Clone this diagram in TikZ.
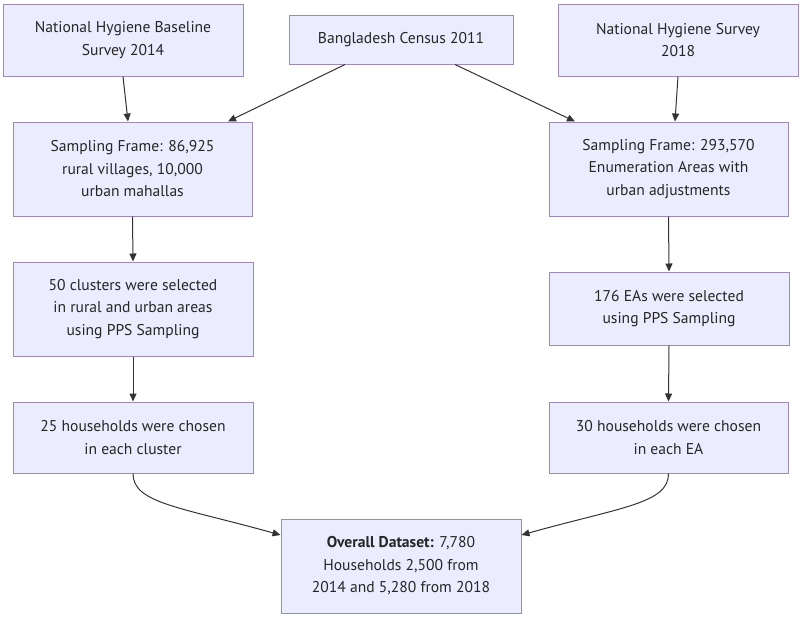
\documentclass[tikz,border=0pt]{standalone}
\usepackage{fontspec}
\setmainfont{PT Sans}
\usetikzlibrary{arrows.meta}
\definecolor{boxfill}{HTML}{ECECFF}
\definecolor{boxline}{HTML}{9C8BB8}
\definecolor{arr}{HTML}{333333}
\tikzset{
  box/.style={draw=boxline, fill=boxfill, line width=1pt, align=center, inner sep=0pt,
    font=\fontsize{15.6}{22.5}\selectfont, text=black!85},
  conn/.style={draw=arr, line width=1pt, -{Triangle[length=8pt,width=7pt]}}
}
\begin{document}
\begin{tikzpicture}[x=1pt,y=-1pt]
\useasboundingbox (0,0) rectangle (800,616);
\node[box, minimum width=240pt, minimum height=72pt] (A) at (123,40) {National Hygiene Baseline\\Survey 2014};
\node[box, minimum width=224pt, minimum height=49pt] (B) at (401,39.5) {Bangladesh Census 2011};
\node[box, minimum width=240pt, minimum height=72pt] (C) at (678,40) {National Hygiene Survey\\2018};
\node[box, minimum width=239pt, minimum height=94pt] (D) at (132.5,169) {Sampling Frame: 86,925\\rural villages, 10,000\\urban mahallas};
\node[box, minimum width=239pt, minimum height=94pt] (E) at (668.5,169) {Sampling Frame: 293,570\\Enumeration Areas with\\urban adjustments};
\node[box, minimum width=240pt, minimum height=94pt] (F) at (133,309) {50 clusters were selected\\in rural and urban areas\\using PPS Sampling};
\node[box, minimum width=240pt, minimum height=73pt] (G) at (669,308.5) {176 EAs were selected\\using PPS Sampling};
\node[box, minimum width=240pt, minimum height=71pt] (H) at (133,437.5) {25 households were chosen\\in each cluster};
\node[box, minimum width=239pt, minimum height=71pt] (I) at (668.5,437.5) {30 households were chosen\\in each EA};
\node[box, minimum width=240pt, minimum height=94pt] (J) at (401,566) {\textbf{Overall Dataset:} 7,780\\Households 2,500 from\\2014 and 5,280 from 2018};

\draw[conn] ([xshift=0pt]A.south) -- ([xshift=-4.5pt]D.north);
\draw[conn] ([xshift=-56pt]B.south) -- ([xshift=95.5pt]D.north);
\draw[conn] ([xshift=54pt]B.south) -- ([xshift=-93.5pt]E.north);
\draw[conn] (C.south) -- ([xshift=6.5pt]E.north);
\draw[conn] (D.south) -- (F.north);
\draw[conn] (E.south) -- (G.north);
\draw[conn] (F.south) -- (H.north);
\draw[conn] (G.south) -- (I.north);
\draw[conn] (H.south) .. controls +(0,30) and +(-100,-28) .. ([yshift=31pt]J.west);
\draw[conn] (I.south) .. controls +(0,30) and +(100,-28) .. ([yshift=31pt]J.east);
\end{tikzpicture}
\end{document}
